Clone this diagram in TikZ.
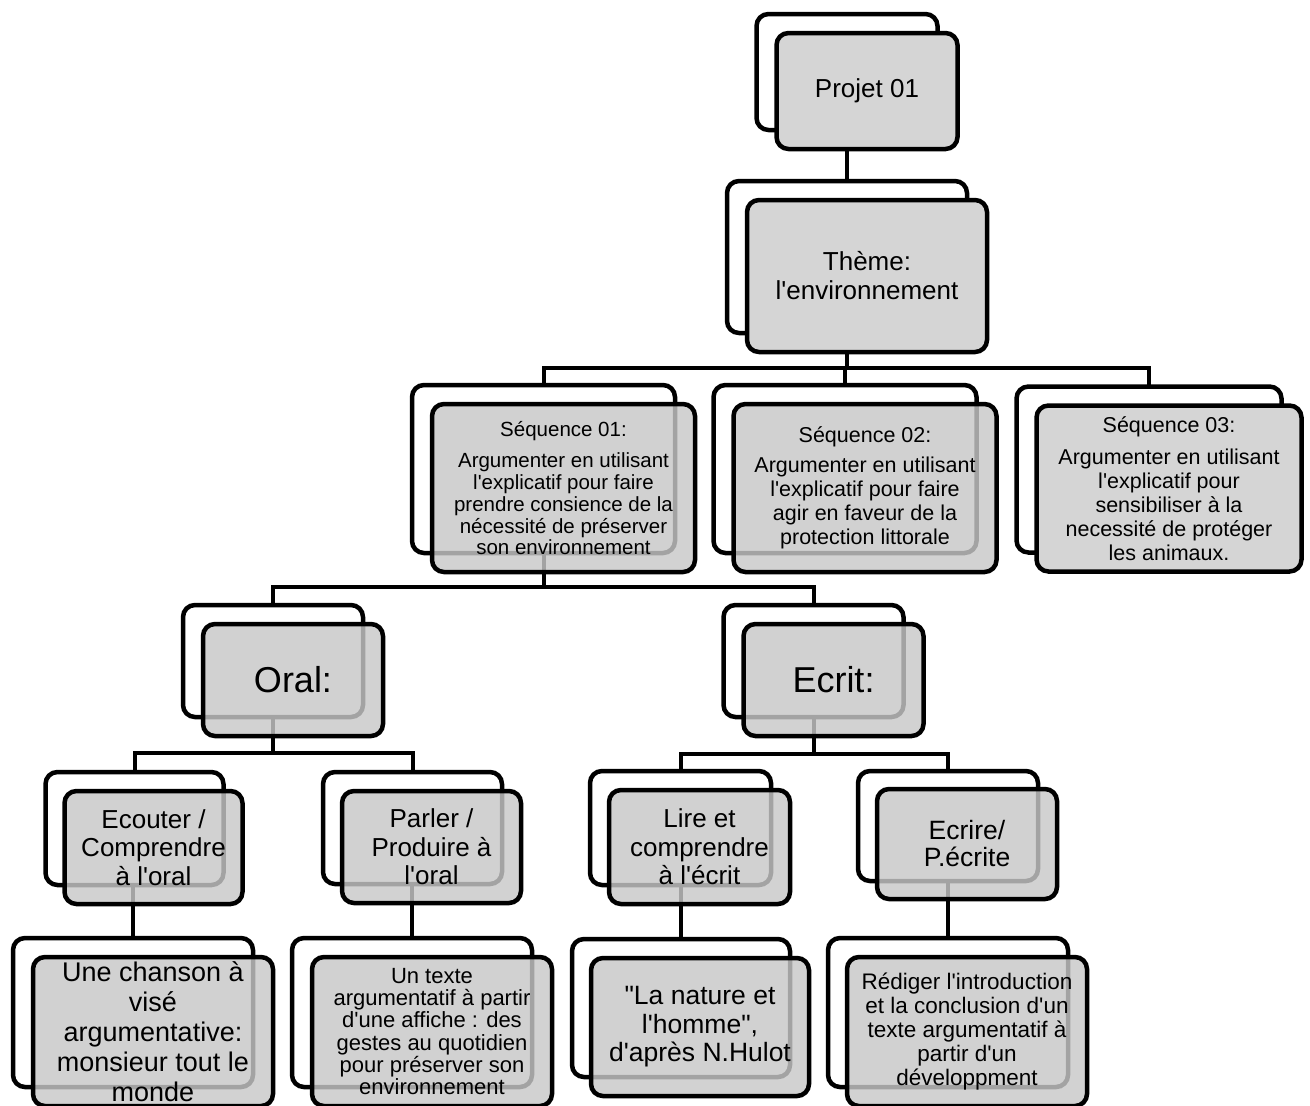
\documentclass[tikz,border=0pt]{standalone}
\usepackage{fontspec}
\setmainfont{Liberation Sans}[Ligatures=TeXOff]
\usepackage{tikz}

\definecolor{boxgray}{RGB}{200,200,200}
\definecolor{solidgray}{RGB}{213,213,213}

\begin{document}
\begin{tikzpicture}[x=1pt,y=-1pt] \tikzstyle{backbox}=[draw,line width=4.5pt,rounded corners=12pt,fill=white,inner sep=0pt,outer sep=0pt] \tikzstyle{frontbox}=[backbox,fill=boxgray,fill opacity=0.82,text opacity=1,align=center] \tikzstyle{solidbox}=[backbox,fill=solidgray,align=center] \tikzstyle{link}=[line width=4pt]

  \useasboundingbox (0,0) rectangle (1310,1106);

  % back boxes
  \node[backbox,minimum width=181pt,minimum height=116pt] (projb)   at (847,72)      {};
  \node[backbox,minimum width=240pt,minimum height=152pt] (themeb)  at (847,257)     {};
  \node[backbox,minimum width=263pt,minimum height=168pt] (seq1b)   at (543.5,469)   {};
  \node[backbox,minimum width=263pt,minimum height=168pt] (seq2b)   at (845,469)     {};
  \node[backbox,minimum width=265pt,minimum height=166pt] (seq3b)   at (1149,469.5)  {};
  \node[backbox,minimum width=180pt,minimum height=112pt] (oralb)   at (273,661)     {};
  \node[backbox,minimum width=180pt,minimum height=112pt] (ecritb)  at (813.5,661)   {};
  \node[backbox,minimum width=178pt,minimum height=113pt] (ecoutb)  at (134.5,828.5) {};
  \node[backbox,minimum width=179pt,minimum height=112pt] (parlb)   at (412.5,828)   {};
  \node[backbox,minimum width=181pt,minimum height=114pt] (lireb)   at (680.5,828)   {};
  \node[backbox,minimum width=180pt,minimum height=110pt] (ecrireb) at (948,826)     {};
  \node[backbox,minimum width=240pt,minimum height=149pt] (chansb)  at (133,1012.5)  {};
  \node[backbox,minimum width=240pt,minimum height=149pt] (texteb)  at (412,1012.5)  {};
  \node[backbox,minimum width=218pt,minimum height=138pt] (natb)    at (681,1008)    {};
  \node[backbox,minimum width=240pt,minimum height=149pt] (redigb)  at (948,1012.5)  {};

  % connectors
  \coordinate (bus1) at (847,368);
  \coordinate (bus2) at (543.5,587);
  \coordinate (bus3) at (273,753);
  \coordinate (bus4) at (813.5,754);

  \draw[link] (projb.south) -- (themeb.north);
  \draw[link] (themeb.south) -- (bus1);
  \draw[link] (bus1) -| (seq1b.north) (bus1) -| (seq2b.north) (bus1) -| (seq3b.north);
  \draw[link] (seq1b.south) -- (bus2);
  \draw[link] (bus2) -| (oralb.north) (bus2) -| (ecritb.north);
  \draw[link] (oralb.south) -- (bus3);
  \draw[link] (bus3) -| (ecoutb.north) (bus3) -| (parlb.north);
  \draw[link] (ecritb.south) -- (bus4);
  \draw[link] (bus4) -| (lireb.north) (bus4) -| (ecrireb.north);
  \draw[link] (ecoutb.south) -| (chansb.north);
  \draw[link] (parlb.south) -| (texteb.north);
  \draw[link] (lireb.south) -| (natb.north);
  \draw[link] (ecrireb.south) -| (redigb.north);

  % front boxes
  \node[solidbox,minimum width=181pt,minimum height=116pt,font=\fontsize{26}{28}\selectfont]
    (proj) at ([shift={(20,19)}]projb.center) {Projet 01};
  \node[solidbox,minimum width=240pt,minimum height=152pt,font=\fontsize{26}{29}\selectfont]
    (theme) at ([shift={(20,19)}]themeb.center) {Thème:\\l'environnement};
  \node[frontbox,minimum width=263pt,minimum height=168pt,font=\fontsize{20.5}{21.7}\selectfont]
    (seq1) at ([shift={(20,19)}]seq1b.center)
    {Séquence 01:\\[10pt]Argumenter en utilisant\\l'explicatif pour faire\\prendre consience de la\\nécessité de préserver\\son environnement};
  \node[frontbox,minimum width=263pt,minimum height=168pt,font=\fontsize{21.5}{24}\selectfont]
    (seq2) at ([shift={(20,19)}]seq2b.center)
    {Séquence 02:\\[6pt]Argumenter en utilisant\\l'explicatif pour faire\\agir en faveur de la\\protection littorale};
  \node[solidbox,minimum width=265pt,minimum height=166pt,font=\fontsize{21.5}{24}\selectfont]
    (seq3) at ([shift={(20,19)}]seq3b.center)
    {Séquence 03:\\[8pt]Argumenter en utilisant\\l'explicatif pour\\sensibiliser à la\\necessité de protéger\\les animaux.};
  \node[frontbox,minimum width=180pt,minimum height=112pt,font=\fontsize{36}{40}\selectfont]
    (oral) at ([shift={(20,19)}]oralb.center) {Oral:};
  \node[frontbox,minimum width=180pt,minimum height=112pt,font=\fontsize{36}{40}\selectfont]
    (ecrit) at ([shift={(20,19)}]ecritb.center) {Ecrit:};
  \node[frontbox,minimum width=178pt,minimum height=113pt,font=\fontsize{26}{28.5}\selectfont]
    (ecout) at ([shift={(19,19)}]ecoutb.center) {Ecouter /\\Comprendre\\à l'oral};
  \node[frontbox,minimum width=179pt,minimum height=112pt,font=\fontsize{26}{28.5}\selectfont]
    (parl) at ([shift={(19,19)}]parlb.center) {Parler /\\Produire à\\l'oral};
  \node[frontbox,minimum width=181pt,minimum height=114pt,font=\fontsize{26}{28.5}\selectfont]
    (lire) at ([shift={(19,19)}]lireb.center) {Lire et\\comprendre\\à l'écrit};
  \node[frontbox,minimum width=180pt,minimum height=110pt,font=\fontsize{26.5}{27}\selectfont]
    (ecrire) at ([shift={(19,18)}]ecrireb.center) {Ecrire/\\P.écrite};
  \node[frontbox,minimum width=240pt,minimum height=149pt,font=\fontsize{27}{30}\selectfont]
    (chans) at ([shift={(20,19)}]chansb.center) {Une chanson à\\visé\\argumentative:\\monsieur tout le\\monde};
  \node[frontbox,minimum width=240pt,minimum height=149pt,font=\fontsize{22}{22.2}\selectfont]
    (texte) at ([shift={(20,19)}]texteb.center) {Un texte\\argumentatif à partir\\d'une affiche : des\\gestes au quotidien\\pour préserver son\\environnement};
  \node[frontbox,minimum width=218pt,minimum height=138pt,font=\fontsize{26.5}{28.5}\selectfont]
    (nat) at ([shift={(19,19)}]natb.center) {"La nature et\\l'homme",\\d'après N.Hulot};
  \node[frontbox,minimum width=240pt,minimum height=149pt,font=\fontsize{22.5}{24}\selectfont]
    (redig) at ([shift={(19,19)}]redigb.center) {Rédiger l'introduction\\et la conclusion d'un\\texte argumentatif à\\partir d'un\\développment};
\end{tikzpicture}
\end{document}
